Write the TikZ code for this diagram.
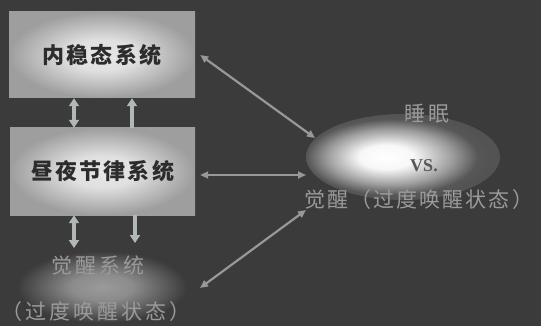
\documentclass[tikz,border=0pt]{standalone}
\usepackage{fontspec}
\newfontfamily\cjk{Noto Sans CJK SC}[LetterSpace=10]
\newfontfamily\cjkw{Noto Sans CJK SC}[LetterSpace=14]
\newfontfamily\vsfont{Liberation Serif}
\usetikzlibrary{arrows.meta,shapes.geometric}
\definecolor{bg}{HTML}{3B3B3B}
\definecolor{boxc}{HTML}{E6E6E6}
\definecolor{boxe}{HTML}{9E9E9E}
\definecolor{arr}{HTML}{B2B8B8}
\definecolor{darr}{HTML}{989898}
\definecolor{dtext}{HTML}{2C2C2C}
\definecolor{ltext}{HTML}{9A9A9A}
\definecolor{elle}{HTML}{575757}
\definecolor{ellm}{HTML}{9E9E9E}
\definecolor{glowc}{HTML}{9A9A9A}
\pgfdeclareradialshading{boxglow}{\pgfpoint{0bp}{0bp}}{color(0bp)=(boxc); color(9bp)=(boxc!92!boxe); color(25bp)=(boxe); color(50bp)=(boxe)}
\pgfdeclareradialshading{ellglow}{\pgfpoint{-5bp}{0bp}}{color(0bp)=(white); color(7bp)=(white!94!gray); color(16bp)=(ellm); color(22bp)=(elle); color(25bp)=(elle!85!bg); color(50bp)=(elle!85!bg)}
\pgfdeclareradialshading{lowglow}{\pgfpoint{0bp}{0bp}}{color(0bp)=(glowc); color(9bp)=(glowc!85!bg); color(25bp)=(bg); color(50bp)=(bg)}
\tikzset{
  sysbox/.style={rectangle, shading=boxglow, minimum width=186pt, minimum height=86pt, inner sep=0pt, font=\cjk\bfseries\fontsize{22}{26}\selectfont, text=dtext},
  thick arrow/.style={draw=arr, line width=4pt, {Triangle[width=10pt,length=8pt]}-{Triangle[width=10pt,length=8pt]}},
  up arrow/.style={draw=arr, line width=4pt, -{Triangle[width=10pt,length=8pt]}},
  diag arrow/.style={draw=darr, line width=2.2pt, {Triangle[width=7pt,length=8pt]}-{Triangle[width=7pt,length=8pt]}},
  label text/.style={font=\cjkw\fontsize{21}{24}\selectfont, text=ltext, inner sep=0pt}
}
\begin{document}
\begin{tikzpicture}[x=1pt,y=-1pt]
\fill[bg] (0,0) rectangle (541,326);
\useasboundingbox (0,0) rectangle (541,326);
% glows
\shade[shading=lowglow] (102,287) ellipse [x radius=85, y radius=36];
\node[ellipse, shading=ellglow, minimum width=194pt, minimum height=86pt, inner sep=0pt] (sl) at (403,157) {};
% boxes
\node[sysbox] (b1) at (102,55) {内稳态系统};
\node[sysbox, minimum width=185pt, minimum height=87pt] (b2) at (102.5,171.5) {昼夜节律系统};
% lower texts
\node[label text, text=glowc] (aw) at (98,266) {觉醒系统};
\node[label text] (aw2) at (96,312) {（过度唤醒状态）};
% right texts
\node[label text, font=\cjk\fontsize{21}{24}\selectfont] (sleep) at (427,114) {睡眠};
\node[font=\vsfont\bfseries\fontsize{18}{20}\selectfont, text=elle, inner sep=0pt] (vs) at (424,166) {VS.};
\node[label text, anchor=west, font=\cjk\fontsize{21}{24}\selectfont] (wake) at (304,200) {觉醒（过度唤醒状态）};
% coordinates
\coordinate (d1) at (74,248);
\coordinate (d2) at (135,243);
\coordinate (e1) at (315,138);
\coordinate (e2) at (306,175);
\coordinate (e3) at (306,210);
\coordinate (s3) at (200,288);
% vertical arrows
\draw[thick arrow] ([xshift=-28pt]b1.south) -- ([xshift=-28.5pt]b2.north);
\draw[up arrow] ([xshift=29.5pt]b2.north) -- ([xshift=30pt]b1.south);
\draw[thick arrow] ([xshift=-28.5pt]b2.south) -- (d1);
\draw[up arrow] ([xshift=32.5pt]b2.south) -- (d2);
% diagonal arrows
\draw[diag arrow] ([xshift=5pt]b1.east) -- (e1);
\draw[diag arrow] ([xshift=5pt,yshift=-3.5pt]b2.east) -- (e2);
\draw[diag arrow] (s3) -- (e3);
\end{tikzpicture}
\end{document}
